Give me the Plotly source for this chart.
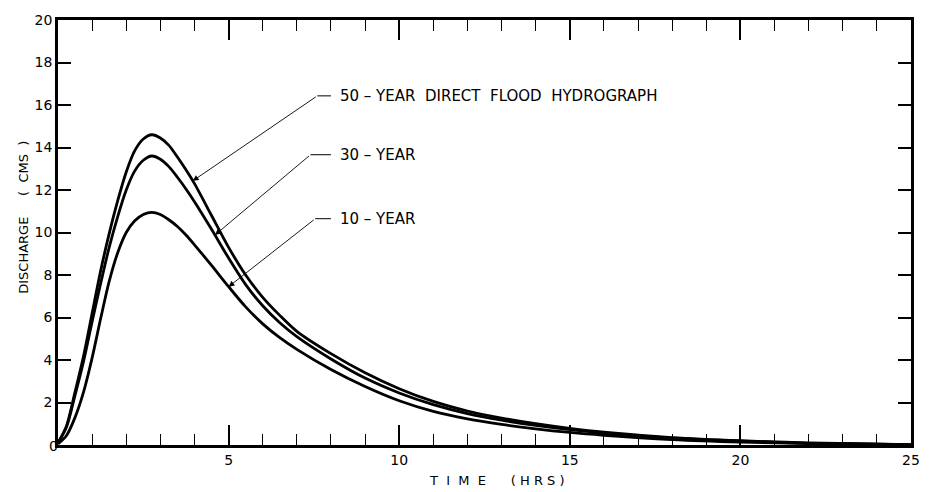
import numpy as np
import plotly.graph_objects as go

# ---- data ----
time_hrs = [0, 0.25, 0.5, 0.75, 1.0, 1.25, 1.5, 1.75, 2.0, 2.25, 2.5, 2.75, 3.0, 3.25, 3.5, 3.75,
            4.0, 4.5, 5.0, 5.5, 6.0, 6.5, 7.0, 8.0, 9.0, 10.0, 11.0, 12.0, 13.0, 14.0, 15.0, 16.0,
            18.0, 20.0, 22.0, 25.0]
q_50yr = [0.1, 0.9, 2.5, 4.2, 6.2, 8.2, 9.95, 11.5, 12.85, 13.85, 14.4, 14.6, 14.45, 14.1, 13.55, 12.95,
          12.3, 10.8, 9.3, 8.0, 6.95, 6.1, 5.35, 4.3, 3.4, 2.65, 2.05, 1.6, 1.27, 1.0, 0.78, 0.6,
          0.35, 0.2, 0.1, 0.02]
q_30yr = [0.1, 0.85, 2.35, 3.95, 5.8, 7.6, 9.3, 10.75, 12.0, 12.9, 13.4, 13.6, 13.45, 13.1, 12.6, 12.05,
          11.45, 10.15, 8.8, 7.55, 6.55, 5.75, 5.1, 4.05, 3.15, 2.45, 1.9, 1.48, 1.17, 0.92, 0.72, 0.56,
          0.32, 0.18, 0.08, 0.02]
q_10yr = [0.05, 0.45, 1.3, 2.5, 4.1, 5.95, 7.7, 9.05, 10.0, 10.55, 10.85, 10.95, 10.85, 10.6, 10.28, 9.88,
          9.42, 8.45, 7.45, 6.5, 5.7, 5.05, 4.5, 3.55, 2.75, 2.08, 1.58, 1.23, 0.97, 0.76, 0.59, 0.46,
          0.26, 0.14, 0.07, 0.02]

series = [q_50yr, q_30yr, q_10yr]
labels = ["50 – YEAR  DIRECT  FLOOD  HYDROGRAPH", "30 – YEAR", "10 – YEAR"]
arrow_tip_t = [3.95, 4.6, 5.0]
leader_kink = [(7.6, 16.43), (7.4, 13.66), (7.54, 10.65)]
label_start_t = 8.0

x_tickvals = [0, 5, 10, 15, 20, 25]
x_ticktext = ["", "5", "10", "15", "20", "25"]
y_tickvals = [0, 2, 4, 6, 8, 10, 12, 14, 16, 18, 20]
y_ticktext = ["", "2", "4", "6", "8", "10", "12", "14", "16", "18", "20"]

FONT = "DejaVu Sans"

fig = go.Figure()
for q in series:
    fig.add_trace(go.Scatter(x=time_hrs, y=q, mode="lines",
                             line=dict(color="black", width=2.8, shape="spline", smoothing=0.8),
                             showlegend=False, hoverinfo="skip"))

for lab, tt, (kx, ky), q in zip(labels, arrow_tip_t, leader_kink, series):
    ty = float(np.interp(tt, time_hrs, q))
    fig.add_annotation(x=tt, y=ty, ax=kx, ay=ky, xref="x", yref="y", axref="x", ayref="y",
                       showarrow=True, arrowhead=2, arrowsize=1.3, arrowwidth=0.9,
                       arrowcolor="black", text="")
    fig.add_shape(type="line", x0=kx, y0=ky, x1=label_start_t, y1=ky,
                  line=dict(color="black", width=1))
    fig.add_annotation(x=label_start_t + 0.22, y=ky, xref="x", yref="y", text=lab,
                       showarrow=False, xanchor="left", yanchor="middle",
                       font=dict(family=FONT, size=15, color="black"))

fig.add_annotation(x=-0.052, y=0.535, xref="paper", yref="paper",
                   text="DISCHARGE     (  CMS  )",
                   textangle=-90, showarrow=False, font=dict(family=FONT, size=13, color="black"))
fig.add_annotation(x=0.515, y=-0.105, xref="paper", yref="paper", text="T  I  M  E      ( H R S )",
                   showarrow=False, font=dict(family=FONT, size=13, color="black"))
fig.add_annotation(x=-0.0128, y=-0.027, xref="paper", yref="paper", text="0",
                   showarrow=False, font=dict(family=FONT, size=14, color="black"))

fig.update_xaxes(range=[0, 25], tickvals=x_tickvals, ticktext=x_ticktext,
                 ticks="inside", ticklen=20, tickwidth=1.5, tickcolor="black",
                 minor=dict(ticks="inside", ticklen=11, tickwidth=1.2, tickcolor="black", dtick=1),
                 showline=True, linecolor="black", linewidth=2.5, mirror="ticks",
                 showgrid=False, zeroline=False,
                 tickfont=dict(family=FONT, size=14, color="black"))
fig.update_yaxes(range=[0, 20], tickvals=y_tickvals, ticktext=y_ticktext,
                 ticks="inside", ticklen=13, tickwidth=1.5, tickcolor="black",
                 showline=True, linecolor="black", linewidth=2.5, mirror="ticks",
                 showgrid=False, zeroline=False,
                 tickfont=dict(family=FONT, size=14, color="black"))

fig.update_layout(width=932, height=492, margin=dict(l=58, r=12, t=13, b=47),
                  paper_bgcolor="white", plot_bgcolor="white")

fig.write_html("out.html")
